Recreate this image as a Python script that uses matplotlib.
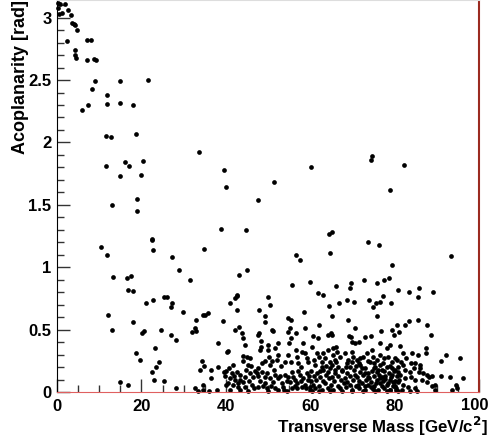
import numpy as np
import matplotlib
matplotlib.use("Agg")
import matplotlib.pyplot as plt
from matplotlib.ticker import MultipleLocator, FuncFormatter

# transverse mass [GeV/c^2] and acoplanarity [rad]
mass_top = [0.3, 0.2, 0.71, 1.9, 1.1, 0.47, 2.6, 3.3, 3.55, 4.0, 4.27, 4.74, 2.37, 4.27, 4.27, 4.5, 7.1, 8.06, 7.1, 8.77, 9.24,
            9.0, 8.3, 7.35, 5.9, 11.85, 11.85, 14.9, 14.9, 18.0, 21.6, 11.6, 12.8, 18.7, 11.6, 16.1, 17.1, 20.4, 14.9, 19.9,
            19.0, 19.0, 13.0, 33.6, 39.6, 40.0, 47.6, 51.4, 60.2, 74.6, 74.4, 82.2, 78.9]
acop_top = [3.12, 3.08, 3.11, 3.11, 3.04, 3.03, 3.06, 3.02, 2.96, 2.95, 2.94, 2.90, 2.81, 2.74, 2.70, 2.68, 2.82, 2.82, 2.66, 2.67, 2.66,
            2.49, 2.43, 2.30, 2.26, 2.38, 2.31, 2.49, 2.32, 2.30, 2.50, 2.05, 2.04, 2.07, 1.81, 1.84, 1.81, 1.85, 1.73, 1.74,
            1.55, 1.45, 1.50, 1.92, 1.78, 1.64, 1.54, 1.68, 1.80, 1.89, 1.86, 1.82, 1.62]

mass_mid = [10.4, 11.85, 22.5, 22.5, 22.7, 38.9, 44.8, 27.25, 34.8, 28.9, 31.5, 13.3, 16.6, 17.5, 16.8, 18.0, 43.1, 45.0, 42.65,
            56.6, 57.6, 64.5, 65.2, 64.7, 73.7, 76.3, 79.4, 93.4, 55.7, 60.0, 61.8, 63.0, 66.1, 69.7, 69.4, 72.7, 75.8, 77.5,
            78.7, 80.8, 83.4, 85.8, 89.1]
acop_mid = [1.16, 1.10, 1.23, 1.22, 1.14, 1.31, 1.30, 1.08, 1.15, 0.98, 0.90, 0.92, 0.91, 0.93, 0.82, 0.81, 0.94, 0.98, 0.78,
            1.10, 1.06, 1.27, 1.28, 1.11, 1.20, 1.18, 1.02, 1.09, 0.86, 0.88, 0.79, 0.78, 0.85, 0.87, 0.83, 0.90, 0.87, 0.90,
            0.91, 0.82, 0.80, 0.83, 0.80]

mass_left = [12.1, 13.0, 18.0, 20.1, 20.6, 18.7, 19.7, 14.9, 16.8, 21.1, 22.7, 25.4, 26.1, 27.3, 27.0, 29.9, 34.6, 35.1, 35.8,
             32.9, 39.3, 24.6, 27.0, 28.2, 32.0, 32.7, 32.9, 23.2, 24.2, 23.5, 22.5, 23.0, 25.4, 28.2, 32.7, 33.4, 34.6, 34.6,
             36.0, 37.9, 38.2, 34.4, 33.9, 34.8, 36.5, 36.5, 38.2, 39.6, 40.0, 39.8, 40.0, 40.3, 40.5,
             41.0, 42.2, 42.7, 42.7, 42.2, 43.1, 43.8, 44.1, 44.5, 44.1, 45.0]
acop_left = [0.62, 0.50, 0.56, 0.47, 0.49, 0.31, 0.26, 0.08, 0.06, 0.71, 0.74, 0.76, 0.76, 0.71, 0.68, 0.64, 0.62, 0.62, 0.63,
             0.58, 0.57, 0.50, 0.46, 0.42, 0.48, 0.51, 0.49, 0.35, 0.24, 0.20, 0.16, 0.10, 0.09, 0.03, 0.03, 0.01, 0.06, 0.02,
             0.01, 0.02, 0.39, 0.25, 0.18, 0.21, 0.18, 0.11, 0.20, 0.16, 0.17, 0.13, 0.06, 0.32, 0.33,
             0.71, 0.75, 0.77, 0.66, 0.50, 0.52, 0.47, 0.43, 0.38, 0.29, 0.28]

mass_c1 = [50.0, 50.5, 47.9, 49.3, 49.3, 54.7, 55.5, 58.5, 58.8, 47.9, 47.6, 48.3, 48.3, 50.0, 51.2, 52.4, 54.7, 55.5, 55.0,
           56.6, 58.3, 45.7, 48.1, 50.0, 51.7, 52.4, 52.1, 49.3, 48.6, 47.6, 50.2, 50.5, 54.0, 54.7, 55.5, 56.6, 58.1, 56.9,
           58.8, 59.2, 59.5, 57.1, 45.3, 51.0, 55.2,
           41.5, 42.7, 43.4, 41.0, 42.2, 43.4, 40.5, 41.7, 42.9, 44.1, 44.5, 45.7, 46.4, 47.4, 47.6, 48.6, 49.3, 48.1, 49.3,
           50.5, 51.2, 51.7, 52.4, 53.3, 54.0, 54.7, 55.7, 55.2, 56.4, 56.9, 57.6, 58.3, 59.2, 59.5, 58.8, 60.0, 44.5, 46.2,
           47.6, 49.8, 51.7, 53.6, 55.7, 56.9, 58.1, 41.0, 43.4, 45.3, 50.0, 52.4, 54.5, 60.0,
           40.8, 42.0, 43.0, 44.8, 45.5, 46.8, 47.0, 48.9, 49.7, 50.8, 51.4, 52.9, 53.8, 54.4, 55.9, 56.3, 57.2, 57.9, 59.0,
           59.8, 41.6, 46.0, 53.0, 57.8, 44.0, 51.0]
acop_c1 = [0.76, 0.70, 0.66, 0.61, 0.56, 0.59, 0.58, 0.64, 0.51, 0.47, 0.46, 0.41, 0.36, 0.38, 0.49, 0.39, 0.48, 0.43, 0.39,
           0.47, 0.39, 0.27, 0.34, 0.34, 0.35, 0.30, 0.26, 0.25, 0.23, 0.19, 0.28, 0.22, 0.24, 0.30, 0.24, 0.34, 0.32, 0.28,
           0.31, 0.27, 0.24, 0.23, 0.22, 0.50, 0.51,
           0.15, 0.16, 0.14, 0.11, 0.10, 0.10, 0.07, 0.06, 0.07, 0.08, 0.12, 0.15, 0.12, 0.15, 0.13, 0.16, 0.12, 0.09, 0.07,
           0.11, 0.08, 0.14, 0.11, 0.07, 0.14, 0.12, 0.16, 0.08, 0.10, 0.07, 0.14, 0.11, 0.15, 0.10, 0.06, 0.04, 0.04, 0.06,
           0.04, 0.03, 0.03, 0.04, 0.03, 0.03, 0.04, 0.02, 0.02, 0.01, 0.01, 0.02, 0.01, 0.02,
           0.19, 0.13, 0.04, 0.18, 0.09, 0.03, 0.17, 0.05, 0.15, 0.05, 0.18, 0.13, 0.02, 0.09, 0.12, 0.05, 0.17, 0.09, 0.03,
           0.13, 0.22, 0.21, 0.21, 0.20, 0.25, 0.25]

mass_c2 = [64.5, 65.2, 66.8, 68.7, 70.4, 69.0, 70.6, 73.9, 74.9, 75.6, 76.5, 77.3, 75.8, 79.1, 80.6, 62.1, 61.8, 60.7, 64.2,
           64.9, 65.2, 69.2, 69.7, 69.9, 70.6, 71.6, 73.0, 74.4, 76.8, 79.4, 79.9, 76.5, 78.9, 78.2, 60.4, 61.6, 62.1, 63.0,
           63.5, 62.8, 64.2, 65.4, 66.1, 66.4, 65.4, 65.9, 67.1, 68.2, 69.9, 70.1, 69.9, 71.1, 71.8, 72.5, 73.5, 74.6, 74.9,
           74.2, 75.8, 76.5, 77.5, 78.4, 79.4, 80.1, 61.1, 62.8, 64.7, 64.7, 65.2, 66.6, 68.7, 69.4, 71.8, 73.0, 75.4, 76.5,
           78.2, 79.4, 80.1,
           61.0, 63.8, 66.0, 67.6, 69.0, 70.8, 72.3, 73.8, 76.0, 77.2, 78.8, 81.5, 82.8, 84.5, 85.8, 62.3, 65.8, 68.4, 71.5,
           75.0]
acop_c2 = [0.69, 0.61, 0.71, 0.74, 0.72, 0.58, 0.51, 0.74, 0.68, 0.71, 0.72, 0.77, 0.61, 0.71, 0.54, 0.54, 0.43, 0.45, 0.46,
           0.47, 0.46, 0.45, 0.44, 0.40, 0.39, 0.40, 0.44, 0.45, 0.49, 0.50, 0.46, 0.39, 0.38, 0.35, 0.36, 0.31, 0.28, 0.31,
           0.27, 0.24, 0.34, 0.35, 0.36, 0.32, 0.30, 0.26, 0.28, 0.31, 0.32, 0.28, 0.24, 0.26, 0.27, 0.28, 0.31, 0.34, 0.28,
           0.24, 0.26, 0.30, 0.27, 0.28, 0.24, 0.27, 0.22, 0.20, 0.19, 0.24, 0.22, 0.20, 0.23, 0.20, 0.22, 0.19, 0.20, 0.22,
           0.20, 0.19, 0.18,
           0.26, 0.21, 0.24, 0.18, 0.26, 0.21, 0.19, 0.25, 0.18, 0.23, 0.21, 0.24, 0.27, 0.19, 0.16, 0.17, 0.18, 0.20, 0.23,
           0.23]

# the dense blob near the W mass
mass_c3 = [60.3, 61.6, 63.0, 64.3, 65.9, 67.5, 68.8, 70.4, 71.9, 73.1, 74.6, 75.9, 77.1, 78.6, 79.8,
           60.9, 62.4, 63.8, 65.1, 66.7, 68.2, 69.5, 71.1, 72.5, 73.8, 75.1, 76.6, 77.8, 79.2, 80.6,
           60.1, 61.4, 63.0, 64.4, 65.7, 67.2, 68.8, 70.2, 71.6, 73.3, 74.4, 75.8, 77.3, 78.8, 80.2,
           60.6, 62.0, 63.6, 64.9, 66.5, 67.9, 69.4, 70.9, 72.2, 73.7, 75.2, 76.6, 78.1, 79.6,
           61.2, 62.7, 64.1, 65.5, 67.1, 68.6, 70.0, 71.5, 73.0, 74.5, 76.0, 77.5, 79.0, 80.4,
           60.4, 62.2, 64.7, 67.5, 69.9, 72.6, 75.4, 78.1, 80.9,
           72.9, 74.0, 75.5, 76.2, 77.0, 77.8, 78.4, 79.3, 80.0, 81.1, 74.8, 76.9, 78.9, 73.6, 75.0, 77.6, 79.7, 80.7, 71.4, 70.5]
acop_c3 = [0.17, 0.15, 0.18, 0.16, 0.15, 0.17, 0.15, 0.18, 0.16, 0.15, 0.17, 0.16, 0.18, 0.15, 0.17,
           0.13, 0.12, 0.14, 0.12, 0.13, 0.11, 0.13, 0.12, 0.14, 0.12, 0.13, 0.11, 0.13, 0.12, 0.13,
           0.09, 0.10, 0.09, 0.11, 0.09, 0.10, 0.08, 0.10, 0.09, 0.10, 0.08, 0.10, 0.09, 0.10, 0.09,
           0.06, 0.05, 0.07, 0.06, 0.05, 0.07, 0.06, 0.05, 0.07, 0.06, 0.05, 0.07, 0.06, 0.05,
           0.03, 0.02, 0.03, 0.02, 0.03, 0.04, 0.02, 0.03, 0.02, 0.04, 0.02, 0.03, 0.02, 0.03,
           0.01, 0.005, 0.01, 0.008, 0.006, 0.01, 0.005, 0.01, 0.006,
           0.045, 0.11, 0.075, 0.14, 0.045, 0.105, 0.075, 0.14, 0.045, 0.10, 0.025, 0.12, 0.02, 0.15, 0.19, 0.17, 0.08, 0.16, 0.06, 0.14]

mass_right = [85.5, 82.5, 83.4, 85.5, 87.7, 88.6, 81.0, 81.3, 82.0, 84.1, 85.5, 87.4, 87.4, 92.2, 91.0, 95.5, 80.6, 82.0,
              83.9, 84.8, 86.0, 80.8, 82.5, 83.6, 86.0, 86.7, 87.7, 88.2, 88.9, 91.0, 93.1, 96.2, 81.3, 82.5, 83.9, 84.8,
              86.5, 87.7, 80.8, 82.0, 83.2, 84.8, 88.9, 89.6, 89.6, 93.6, 94.5, 94.8, 80.3, 81.8, 83.6, 85.3]
acop_right = [0.76, 0.54, 0.57, 0.58, 0.54, 0.46, 0.48, 0.37, 0.31, 0.31, 0.30, 0.35, 0.31, 0.30, 0.25, 0.27, 0.26, 0.22,
              0.23, 0.23, 0.22, 0.20, 0.18, 0.16, 0.19, 0.15, 0.14, 0.12, 0.13, 0.13, 0.12, 0.11, 0.14, 0.11, 0.12, 0.10,
              0.10, 0.08, 0.08, 0.06, 0.04, 0.03, 0.05, 0.06, 0.02, 0.02, 0.06, 0.03, 0.02, 0.02, 0.01, 0.01]

mass = mass_top + mass_mid + mass_left + mass_c1 + mass_c2 + mass_c3 + mass_right
acop = acop_top + acop_mid + acop_left + acop_c1 + acop_c2 + acop_c3 + acop_right

plt.rcParams['font.family'] = ['Liberation Sans', 'DejaVu Sans']
plt.rcParams['font.weight'] = 'bold'
plt.rcParams['mathtext.default'] = 'bf'

fig = plt.figure(figsize=(4.9, 4.41), dpi=100)
ax = fig.add_axes([57/490, 1 - 392/441, (479 - 57)/490, 392/441])
ax.plot(mass, acop, 'o', color='black', ms=3.4, mew=0, ls='none', clip_on=False)

ax.set_xlim(0, 100)
ax.set_ylim(0, np.pi)
ax.xaxis.set_major_locator(MultipleLocator(20))
ax.xaxis.set_minor_locator(MultipleLocator(5))
ax.yaxis.set_major_locator(MultipleLocator(0.5))
ax.yaxis.set_minor_locator(MultipleLocator(0.1))
# last x label is drawn by hand, nudged inside like ROOT does
ax.xaxis.set_major_formatter(FuncFormatter(lambda v, p: "" if v > 99 else f"{v:g}"))
ax.yaxis.set_major_formatter(FuncFormatter(lambda v, p: f"{v:g}"))
ax.tick_params(which='both', direction='in', top=False, right=False, labelsize=12, width=1, color='#333333')
ax.tick_params(which='major', length=9.5)
ax.tick_params(which='minor', length=5)
ax.tick_params(axis='x', pad=5)
ax.tick_params(axis='y', pad=4)
ax.annotate('100', xy=(100, 0), xycoords=('data', 'axes fraction'), xytext=(-4, -5.5), textcoords='offset pixels',
            ha='center', va='top', fontsize=12, fontweight='bold', annotation_clip=False)

ax.spines['left'].set_color('black')
ax.spines['top'].set_color('#dddddd')
ax.spines['right'].set_color('#9b2a20')
ax.spines['right'].set_linewidth(1.5)
ax.spines['bottom'].set_color('#e06060')

ax.set_xlabel('Transverse Mass [GeV/c$^{2}$]', fontsize=12.2, fontweight='bold', ha='right', va='top')
ax.xaxis.set_label_coords(1.021, -0.058)
ax.set_ylabel('Acoplanarity [rad]', fontsize=13, fontweight='bold', ha='right', va='bottom')
ax.yaxis.set_label_coords(-0.067, 1.0)

fig.savefig('out.png', dpi=100)
